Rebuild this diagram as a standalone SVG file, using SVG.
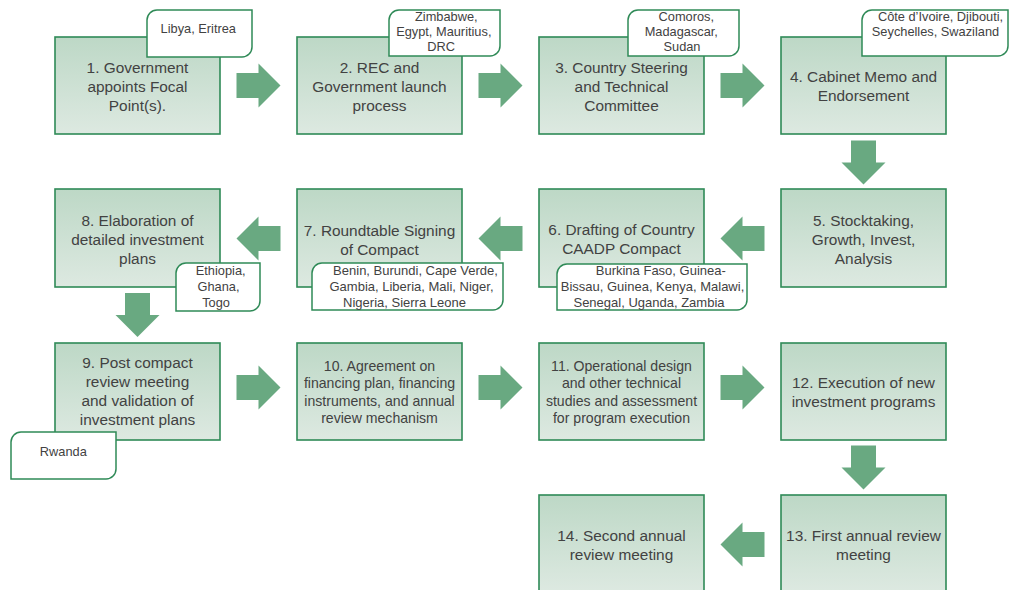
<svg xmlns="http://www.w3.org/2000/svg" width="1010" height="590" viewBox="0 0 1010 590">
  <defs>
    <linearGradient id="boxFill" x1="0" y1="0" x2="0" y2="1">
      <stop offset="0" stop-color="#bdd8c6"/>
      <stop offset="1" stop-color="#dde9e1"/>
    </linearGradient>
    <!-- block arrow pointing right, centred on the origin -->
    <path id="blockArrow" d="M-22,-12.5 H0 V-22 L22,0 L0,22 V12.5 H-22 Z"/>
    <style>
      .box { fill: url(#boxFill); stroke: #2f8a57; stroke-width: 1.6; }
      .note { fill: #ffffff; stroke: #2f8a57; stroke-width: 1.5; }
      .arrow { fill: #69a981; }
      text { font-family: "Liberation Sans", Arial, sans-serif; fill: #424242; text-anchor: middle; }
      .t { font-size: 15.4px; }
      .ts { font-size: 14.1px; }
      .n { font-size: 12.8px; }
      .nl { font-size: 13px; }
    </style>
  </defs>

  <rect width="1010" height="590" fill="#ffffff"/>

  <!-- connectors -->
  <g id="connectors">
    <use href="#blockArrow" class="arrow" transform="translate(258.5,85.5)"/>
    <use href="#blockArrow" class="arrow" transform="translate(500.5,85.5)"/>
    <use href="#blockArrow" class="arrow" transform="translate(742.5,85.5)"/>
    <use href="#blockArrow" class="arrow" transform="translate(863.5,162.5) rotate(90)"/>
    <use href="#blockArrow" class="arrow" transform="translate(742.5,238.5) rotate(180)"/>
    <use href="#blockArrow" class="arrow" transform="translate(500.5,238.5) rotate(180)"/>
    <use href="#blockArrow" class="arrow" transform="translate(258.5,238.5) rotate(180)"/>
    <use href="#blockArrow" class="arrow" transform="translate(137.5,315) rotate(90)"/>
    <use href="#blockArrow" class="arrow" transform="translate(258.5,387.5)"/>
    <use href="#blockArrow" class="arrow" transform="translate(500.5,387.5)"/>
    <use href="#blockArrow" class="arrow" transform="translate(742.5,387.5)"/>
    <use href="#blockArrow" class="arrow" transform="translate(863.5,467.5) rotate(90)"/>
    <use href="#blockArrow" class="arrow" transform="translate(742.5,544.5) rotate(180)"/>
  </g>

  <!-- row 1 -->
  <g id="step1">
    <rect class="box" x="55" y="37" width="165" height="97"/>
    <text class="t" x="137.5" y="72.7">1. Government</text>
    <text class="t" x="137.5" y="92">appoints Focal</text>
    <text class="t" x="137.5" y="111.3">Point(s).</text>
  </g>
  <g id="step2">
    <rect class="box" x="297" y="37" width="165" height="97"/>
    <text class="t" x="379.5" y="72.7">2. REC and</text>
    <text class="t" x="379.5" y="92">Government launch</text>
    <text class="t" x="379.5" y="111.3">process</text>
  </g>
  <g id="step3">
    <rect class="box" x="539" y="37" width="165" height="97"/>
    <text class="t" x="621.5" y="72.7">3. Country Steering</text>
    <text class="t" x="621.5" y="92">and Technical</text>
    <text class="t" x="621.5" y="111.3">Committee</text>
  </g>
  <g id="step4">
    <rect class="box" x="781" y="37" width="165" height="97"/>
    <text class="t" x="863.5" y="82.3">4. Cabinet Memo and</text>
    <text class="t" x="863.5" y="101">Endorsement</text>
  </g>

  <!-- row 2 -->
  <g id="step5">
    <rect class="box" x="781" y="189" width="165" height="98"/>
    <text class="t" x="863.5" y="225.5">5. Stocktaking,</text>
    <text class="t" x="863.5" y="244.7">Growth, Invest,</text>
    <text class="t" x="863.5" y="263.5">Analysis</text>
  </g>
  <g id="step6">
    <rect class="box" x="539" y="189" width="165" height="98"/>
    <text class="t" x="621.5" y="235">6. Drafting of Country</text>
    <text class="t" x="621.5" y="254">CAADP Compact</text>
  </g>
  <g id="step7">
    <rect class="box" x="297" y="189" width="165" height="98"/>
    <text class="t" x="379.5" y="236">7. Roundtable Signing</text>
    <text class="t" x="379.5" y="254.5">of Compact</text>
  </g>
  <g id="step8">
    <rect class="box" x="55" y="189" width="165" height="98"/>
    <text class="t" x="137.5" y="225.7">8. Elaboration of</text>
    <text class="t" x="137.5" y="245">detailed investment</text>
    <text class="t" x="137.5" y="263.5">plans</text>
  </g>

  <!-- row 3 -->
  <g id="step9">
    <rect class="box" x="55" y="343" width="165" height="97"/>
    <text class="t" x="137.5" y="368.3">9. Post compact</text>
    <text class="t" x="137.5" y="387.3">review meeting</text>
    <text class="t" x="137.5" y="406.3">and validation of</text>
    <text class="t" x="137.5" y="425.3">investment plans</text>
  </g>
  <g id="step10">
    <rect class="box" x="297" y="343" width="165" height="97"/>
    <text class="ts" x="379.5" y="370.7">10. Agreement on</text>
    <text class="ts" x="379.5" y="388.2">financing plan, financing</text>
    <text class="ts" x="379.5" y="405.5">instruments, and annual</text>
    <text class="ts" x="379.5" y="422.8">review mechanism</text>
  </g>
  <g id="step11">
    <rect class="box" x="539" y="343" width="165" height="97"/>
    <text class="ts" x="621.5" y="370.7">11. Operational design</text>
    <text class="ts" x="621.5" y="388.2">and other technical</text>
    <text class="ts" x="621.5" y="405.5">studies and assessment</text>
    <text class="ts" x="621.5" y="422.8">for program execution</text>
  </g>
  <g id="step12">
    <rect class="box" x="781" y="343" width="165" height="97"/>
    <text class="t" x="863.5" y="388.3">12. Execution of new</text>
    <text class="t" x="863.5" y="406.8">investment programs</text>
  </g>

  <!-- row 4 -->
  <g id="step13">
    <rect class="box" x="781" y="495" width="165" height="97"/>
    <text class="t" x="863.5" y="540.7">13. First annual review</text>
    <text class="t" x="863.5" y="559.5">meeting</text>
  </g>
  <g id="step14">
    <rect class="box" x="539" y="495" width="165" height="97"/>
    <text class="t" x="621.5" y="540.7">14. Second annual</text>
    <text class="t" x="621.5" y="559.5">review meeting</text>
  </g>

  <!-- country notes: rounded top-left and bottom-right corners -->
  <g id="note1">
    <path class="note" d="M157,10 H252 V47 A10,10 0 0 1 242,57 H147 V20 A10,10 0 0 1 157,10 Z"/>
    <text class="n" x="198.3" y="33.3">Libya, Eritrea</text>
  </g>
  <g id="note2">
    <path class="note" d="M399,10 H500 V46 A10,10 0 0 1 490,56 H389 V20 A10,10 0 0 1 399,10 Z"/>
    <text class="n" x="446.3" y="20.7">Zimbabwe,</text>
    <text class="n" x="443.8" y="35.5">Egypt, Mauritius,</text>
    <text class="n" x="441.2" y="51.2">DRC</text>
  </g>
  <g id="note3">
    <path class="note" d="M638,10 H739 V46 A10,10 0 0 1 729,56 H628 V20 A10,10 0 0 1 638,10 Z"/>
    <text class="n" x="686.3" y="20.7">Comoros,</text>
    <text class="n" x="681.3" y="35.5">Madagascar,</text>
    <text class="n" x="682" y="51.2">Sudan</text>
  </g>
  <g id="note4">
    <path class="note" d="M872,10 H1008 V46 A10,10 0 0 1 998,56 H862 V20 A10,10 0 0 1 872,10 Z"/>
    <text class="n" x="940.5" y="20.7">Côte d’Ivoire, Djibouti,</text>
    <text class="n" x="935.5" y="36">Seychelles, Swaziland</text>
  </g>
  <g id="note8">
    <path class="note" d="M186,263 H260 V301 A10,10 0 0 1 250,311 H176 V273 A10,10 0 0 1 186,263 Z"/>
    <text class="n" x="220.7" y="275">Ethiopia,</text>
    <text class="n" x="218.5" y="291">Ghana,</text>
    <text class="n" x="216" y="307">Togo</text>
  </g>
  <g id="note7">
    <path class="note" d="M322,263 H503 V300 A10,10 0 0 1 493,310 H312 V273 A10,10 0 0 1 322,263 Z"/>
    <text class="nl" x="415.5" y="275">Benin, Burundi, Cape Verde,</text>
    <text class="nl" x="411.5" y="291.3">Gambia, Liberia, Mali, Niger,</text>
    <text class="nl" x="404.5" y="307">Nigeria, Sierra Leone</text>
  </g>
  <g id="note6">
    <path class="note" d="M567,264 H747 V300 A10,10 0 0 1 737,310 H557 V274 A10,10 0 0 1 567,264 Z"/>
    <text class="nl" x="660.8" y="275">Burkina Faso, Guinea-</text>
    <text class="nl" x="652.5" y="291">Bissau, Guinea, Kenya, Malawi,</text>
    <text class="nl" x="649" y="306.7">Senegal, Uganda, Zambia</text>
  </g>
  <g id="note9">
    <path class="note" d="M21,432 H116 V469 A10,10 0 0 1 106,479 H11 V442 A10,10 0 0 1 21,432 Z"/>
    <text class="n" x="63.3" y="455.7">Rwanda</text>
  </g>
</svg>
